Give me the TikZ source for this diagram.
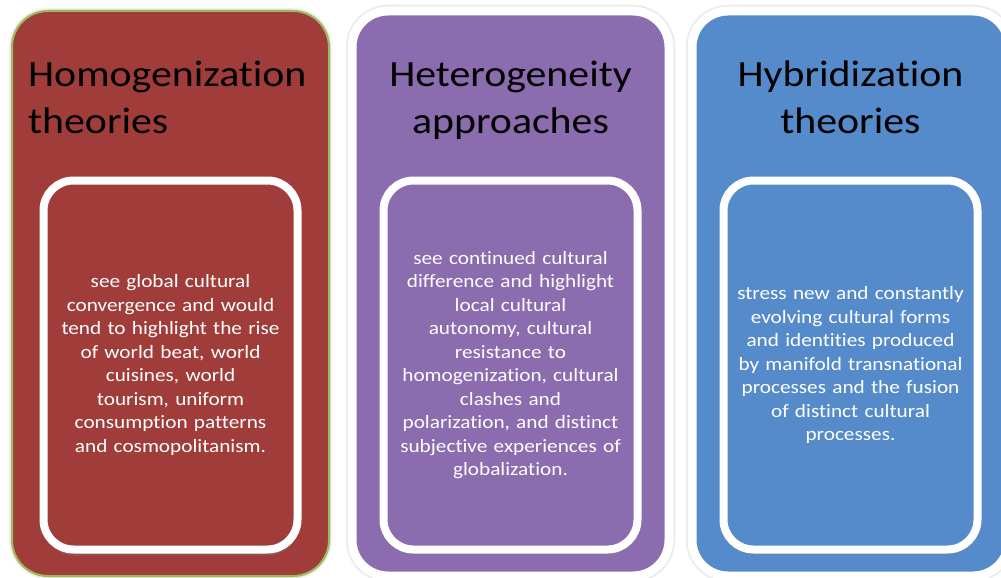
\documentclass[tikz,border=0pt]{standalone}
\usepackage{fontspec}
\setmainfont{Carlito}[FakeStretch=1.13, Ligatures=NoCommon]
\usepackage{tikz}
\usepackage{xcolor}
\usetikzlibrary{positioning, shadows}

\definecolor{homogred}{RGB}{160,61,59}
\definecolor{heterpurple}{RGB}{139,108,174}
\definecolor{hybridblue}{RGB}{86,139,203}
\definecolor{rimgreen}{RGB}{155,187,89}

\tikzset{
    outerbox/.style={rectangle, rounded corners=36pt, minimum width=317pt, minimum height=565pt,
        inner sep=0pt, outer sep=0pt, draw=white, line width=9pt},
    halo/.style={preaction={draw=black!5, line width=#1+4pt}, preaction={draw=black!11, line width=#1+1.5pt}},
    innerbox/.style={rectangle, rounded corners=30pt, minimum width=254pt, minimum height=369pt,
        text width=240pt, align=center, inner sep=0pt, outer sep=0pt, draw=white, line width=8pt,
        text=white, font=\fontsize{18.8}{23.5}\selectfont,
        drop shadow={opacity=.3, shadow xshift=1pt, shadow yshift=-6pt}},
    headline/.style={inner sep=0pt, font=\fontsize{37}{47}\selectfont, execute at begin node=\strut}
}

\begin{document}
\begin{tikzpicture}[x=1pt, y=-1pt]
                \useasboundingbox (0,0) rectangle (1001,578);

                % the three columns
                \node[outerbox, fill=homogred, halo=2pt, draw=rimgreen, line width=2pt] (homog) at (170.5, 293.5) {};
                \node[outerbox, fill=heterpurple, halo=9pt, right=23pt of homog] (heter) {};
                \node[outerbox, fill=hybridblue, halo=9pt, right=23pt of heter] (hybrid) {};

                % headings
                \node[headline, anchor=north west, align=left] (homoghead) at ([xshift=16pt, yshift=-50pt]homog.north west) {Homogenization\\theories};
                \node[headline, anchor=north, align=center] (heterhead) at ([yshift=-50pt]heter.north) {Heterogeneity\\approaches};
                \node[headline, anchor=north, align=center] (hybridhead) at ([yshift=-50pt]hybrid.north) {Hybridization\\theories};

                % descriptions
                \node[innerbox, fill=homogred] (homogtxt) at ([yshift=-71.5pt]homog.center)
                    {see global cultural\\convergence and would\\tend to highlight the rise\\of world beat, world\\cuisines, world\\tourism, uniform\\consumption patterns\\and cosmopolitanism.};
                \node[innerbox, fill=heterpurple] (hetertxt) at ([yshift=-71.5pt]heter.center)
                    {see continued cultural\\difference and highlight\\local cultural\\autonomy, cultural\\resistance to\\homogenization, cultural\\clashes and\\polarization, and distinct\\subjective experiences of\\globalization.};
                \node[innerbox, fill=hybridblue] (hybridtxt) at ([yshift=-71.5pt]hybrid.center)
                    {stress new and constantly\\evolving cultural forms\\and identities produced\\by manifold transnational\\processes and the fusion\\of distinct cultural\\processes.};
            \end{tikzpicture}
\end{document}
